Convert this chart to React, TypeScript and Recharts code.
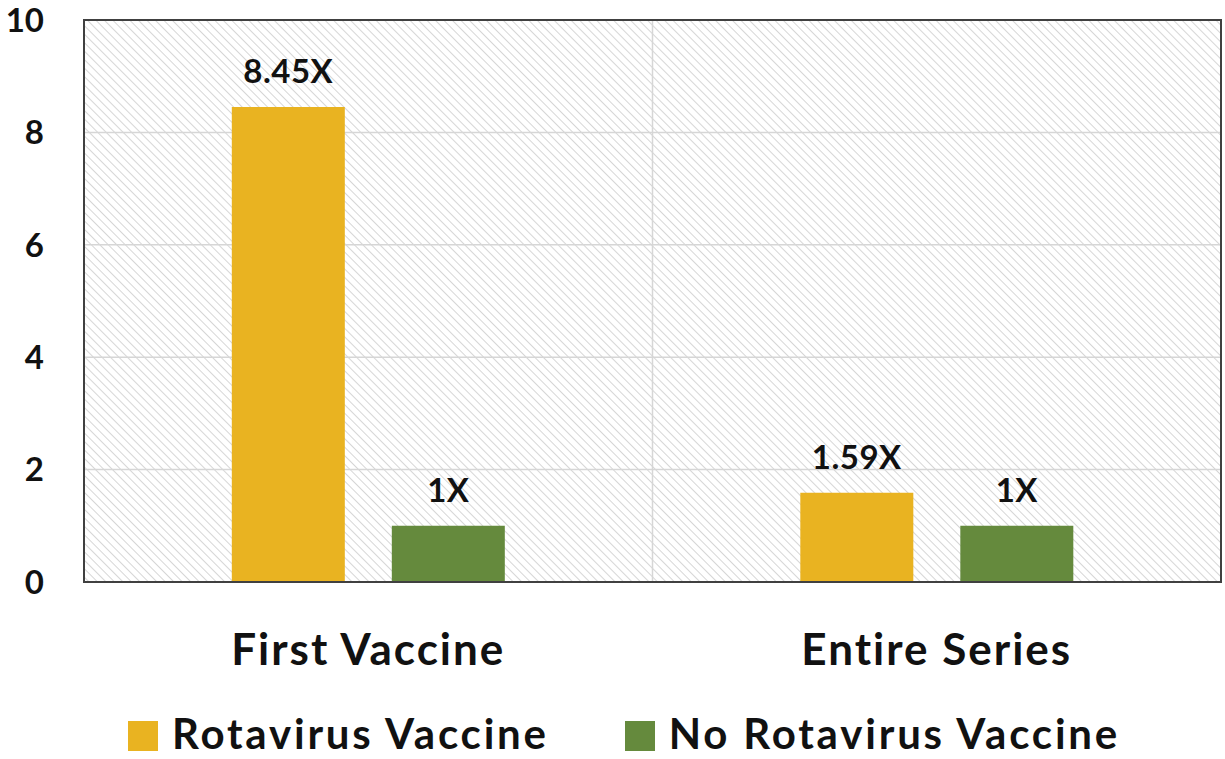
import React from "react";
import {
  BarChart, Bar, XAxis, YAxis, CartesianGrid, Legend, LabelList, ReferenceArea,
} from "recharts";

const categories = ["First Vaccine", "Entire Series"];
const rotavirus = [8.45, 1.59];
const noRotavirus = [1, 1];
const yTicks = [0, 2, 4, 6, 8, 10];

const data = categories.map((name, i) => ({
  name,
  rota: rotavirus[i],
  noRota: noRotavirus[i],
}));

const FONT = "Lato, 'Open Sans', sans-serif";
const ORANGE = "#E9B321";
const GREEN = "#658A3D";

const legendItems = [
  { label: "Rotavirus Vaccine", color: ORANGE },
  { label: "No Rotavirus Vaccine", color: GREEN },
];

function LegendContent() {
  return (
    <div
      style={{
        height: 60, display: "flex", justifyContent: "flex-start", alignItems: "center",
        paddingTop: 8, paddingLeft: 128, boxSizing: "border-box",
      }}
    >
      {legendItems.map((it, i) => (
        <div key={it.label} style={{ display: "flex", alignItems: "center", marginRight: i === 0 ? 76 : 0 }}>
          <span
            style={{
              width: 30, height: 30, background: it.color, marginRight: 14,
              display: "inline-block", position: "relative", top: 3,
            }}
          />
          <span
            style={{
              fontFamily: FONT, fontWeight: 700, fontSize: 42, letterSpacing: 2.8,
              lineHeight: "40px", color: "#111", whiteSpace: "nowrap",
            }}
          >
            {it.label}
          </span>
        </div>
      ))}
    </div>
  );
}

const labelStyle = { fontFamily: FONT, fontWeight: 700, fontSize: 33, letterSpacing: 0.5, fill: "#111" };

export default function App() {
  return (
    <div style={{ position: "absolute", left: 0, top: 0, width: 1225, height: 759, background: "#fff" }}>
      <BarChart
        width={1225}
        height={759}
        data={data}
        margin={{ top: 20, right: 4, left: 0, bottom: 0 }}
        barCategoryGap="26%"
        barGap={47}
      >
        <defs>
          <pattern id="hatch" width="6" height="6" patternUnits="userSpaceOnUse" patternTransform="rotate(45)">
            <rect width="6" height="6" fill="#ffffff" />
            <line x1="0" y1="0" x2="6" y2="0" stroke="#d2d2d2" strokeWidth="1.8" />
          </pattern>
        </defs>
        <CartesianGrid
          fill="url(#hatch)"
          stroke="#d6d6d6"
          strokeWidth={1.5}
          verticalCoordinatesGenerator={({ offset }: any) => [offset.left + offset.width / 2]}
        />
        <XAxis
          dataKey="name"
          height={117}
          tickLine={false}
          tickSize={0}
          tickMargin={52}
          axisLine={{ stroke: "#404040", strokeWidth: 2 }}
          tick={{ fontFamily: FONT, fontWeight: 700, fontSize: 44, letterSpacing: 2, fill: "#111" }}
        />
        <YAxis
          width={84}
          domain={[0, 10]}
          ticks={yTicks}
          tickLine={false}
          tickSize={0}
          tickMargin={40}
          axisLine={{ stroke: "#404040", strokeWidth: 2 }}
          tick={{ fontFamily: FONT, fontWeight: 700, fontSize: 33, fill: "#111" }}
        />
        <ReferenceArea y1={0} y2={10} fill="none" stroke="#404040" strokeWidth={2} />
        <Legend verticalAlign="bottom" height={60} content={<LegendContent />} />
        <Bar dataKey="rota" name="Rotavirus Vaccine" fill={ORANGE} isAnimationActive={false}>
          <LabelList
            dataKey="rota"
            position="top"
            offset={24}
            formatter={(v: any) => `${v}X`}
            style={labelStyle}
          />
        </Bar>
        <Bar dataKey="noRota" name="No Rotavirus Vaccine" fill={GREEN} isAnimationActive={false}>
          <LabelList
            dataKey="noRota"
            position="top"
            offset={24}
            formatter={(v: any) => `${v}X`}
            style={labelStyle}
          />
        </Bar>
      </BarChart>
    </div>
  );
}
